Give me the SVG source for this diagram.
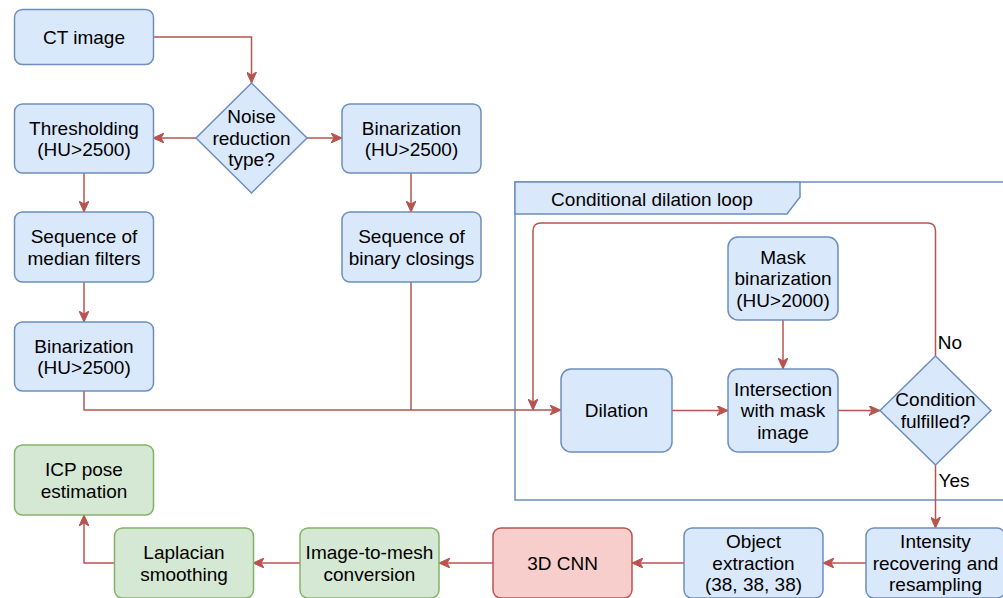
<svg xmlns="http://www.w3.org/2000/svg" width="1003" height="598" viewBox="0 0 1003 598">
<defs>
<marker id="arr" markerUnits="userSpaceOnUse" markerWidth="12" markerHeight="10" refX="11" refY="5" orient="auto">
<path d="M0,0 L11,5 L0,10 L3,5 Z" fill="#b85450" stroke="#b85450" stroke-width="1"/>
</marker>
</defs>
<style>
.b{fill:#dae8fc;stroke:#6c8ebf;stroke-width:1.5}
.g{fill:#d5e8d4;stroke:#82b366;stroke-width:1.5}
.r{fill:#f8cecc;stroke:#b85450;stroke-width:1.5}
text{font-family:"Liberation Sans",Arial,Helvetica,sans-serif;font-size:19px;fill:#000;text-anchor:middle}
.c{fill:none;stroke:#b85450;stroke-width:1.5;marker-end:url(#arr)}
.n{fill:none;stroke:#b85450;stroke-width:1.5}
</style>
<rect width="1003" height="598" fill="#ffffff"/>

<g id="loop">
<rect x="515" y="182" width="500" height="318" fill="none" stroke="#6c8ebf" stroke-width="1.5"/>
<polygon points="515,182 800,182 800,197 787,214 515,214" class="b"/>
<text x="652" y="206">Conditional dilation loop</text>
</g>

<g id="connectors">
<path class="c" d="M153,37 H251.5 V83"/>
<path class="c" d="M196,138 H153"/>
<path class="c" d="M307,138 H342"/>
<path class="c" d="M84,173 V212"/>
<path class="c" d="M84,282 V322"/>
<path class="c" d="M411,173 V212"/>
<path class="n" d="M411,282 V410"/>
<path class="c" d="M84,391 V410 H561"/>
<path class="c" d="M935.5,356 V231 Q935.5,223 927.5,223 H541 Q533,223 533,231 V410"/>
<path class="c" d="M672,410.5 H728"/>
<path class="c" d="M783,320 V369"/>
<path class="c" d="M838,410.5 H880"/>
<path class="c" d="M935.5,465 V528"/>
<path class="c" d="M866,563 H823"/>
<path class="c" d="M684,563 H632"/>
<path class="c" d="M493,563 H439"/>
<path class="c" d="M300,563 H253"/>
<path class="c" d="M114,563 H84 V515"/>
<text x="950" y="349" style="text-anchor:middle">No</text>
<text x="954" y="487" style="text-anchor:middle">Yes</text>
</g>

<g id="ct"><rect class="b" x="14.5" y="9.5" width="139" height="55" rx="8"/><text x="84" y="44">CT image</text></g>

<g id="noise"><polygon class="b" points="251.5,83 307,138 251.5,193 196,138"/>
<text x="251.5" y="123">Noise</text><text x="251.5" y="144.7">reduction</text><text x="251.5" y="166.4">type?</text></g>

<g id="thresh"><rect class="b" x="14.5" y="104" width="139" height="69" rx="8"/>
<text x="84" y="134.5">Thresholding</text><text x="84" y="156.2">(HU&gt;2500)</text></g>

<g id="bin1"><rect class="b" x="342" y="104" width="139" height="69" rx="8"/>
<text x="411.5" y="134.5">Binarization</text><text x="411.5" y="156.2">(HU&gt;2500)</text></g>

<g id="median"><rect class="b" x="14.5" y="212" width="139" height="70" rx="8"/>
<text x="84" y="243">Sequence of</text><text x="84" y="264.7">median filters</text></g>

<g id="closings"><rect class="b" x="342" y="212" width="139" height="70" rx="8"/>
<text x="411.5" y="243">Sequence of</text><text x="411.5" y="264.7">binary closings</text></g>

<g id="bin2"><rect class="b" x="14.5" y="322" width="139" height="69" rx="8"/>
<text x="84" y="352.5">Binarization</text><text x="84" y="374.2">(HU&gt;2500)</text></g>

<g id="mask"><rect class="b" x="728" y="237" width="110" height="83" rx="10"/>
<text x="783" y="263.5">Mask</text><text x="783" y="285.2">binarization</text><text x="783" y="306.9">(HU&gt;2000)</text></g>

<g id="dilation"><rect class="b" x="561" y="369" width="111" height="83" rx="10"/>
<text x="616.5" y="417.2">Dilation</text></g>

<g id="intersection"><rect class="b" x="728" y="369" width="110" height="83" rx="10"/>
<text x="783" y="395.5">Intersection</text><text x="783" y="417.2">with mask</text><text x="783" y="438.9">image</text></g>

<g id="condition"><polygon class="b" points="935.5,356 991,410.5 935.5,465 880,410.5"/>
<text x="935.5" y="406.3">Condition</text><text x="935.5" y="428.1">fulfilled?</text></g>

<g id="intensity"><rect class="b" x="866" y="528" width="139" height="70" rx="8"/>
<text x="935.5" y="548">Intensity</text><text x="935.5" y="569.7">recovering and</text><text x="935.5" y="591.4">resampling</text></g>

<g id="object"><rect class="b" x="684" y="528" width="139" height="70" rx="8"/>
<text x="753.5" y="548">Object</text><text x="753.5" y="569.7">extraction</text><text x="753.5" y="591.4">(38, 38, 38)</text></g>

<g id="cnn"><rect class="r" x="493" y="528" width="139" height="70" rx="8"/>
<text x="562.5" y="569.7">3D CNN</text></g>

<g id="mesh"><rect class="g" x="300" y="528" width="139" height="70" rx="8"/>
<text x="369.5" y="558.8">Image-to-mesh</text><text x="369.5" y="580.5">conversion</text></g>

<g id="laplacian"><rect class="g" x="114.5" y="528" width="139" height="70" rx="8"/>
<text x="184" y="558.8">Laplacian</text><text x="184" y="580.5">smoothing</text></g>

<g id="icp"><rect class="g" x="14.5" y="445" width="139" height="70" rx="8"/>
<text x="84" y="475.8">ICP pose</text><text x="84" y="497.5">estimation</text></g>
</svg>
